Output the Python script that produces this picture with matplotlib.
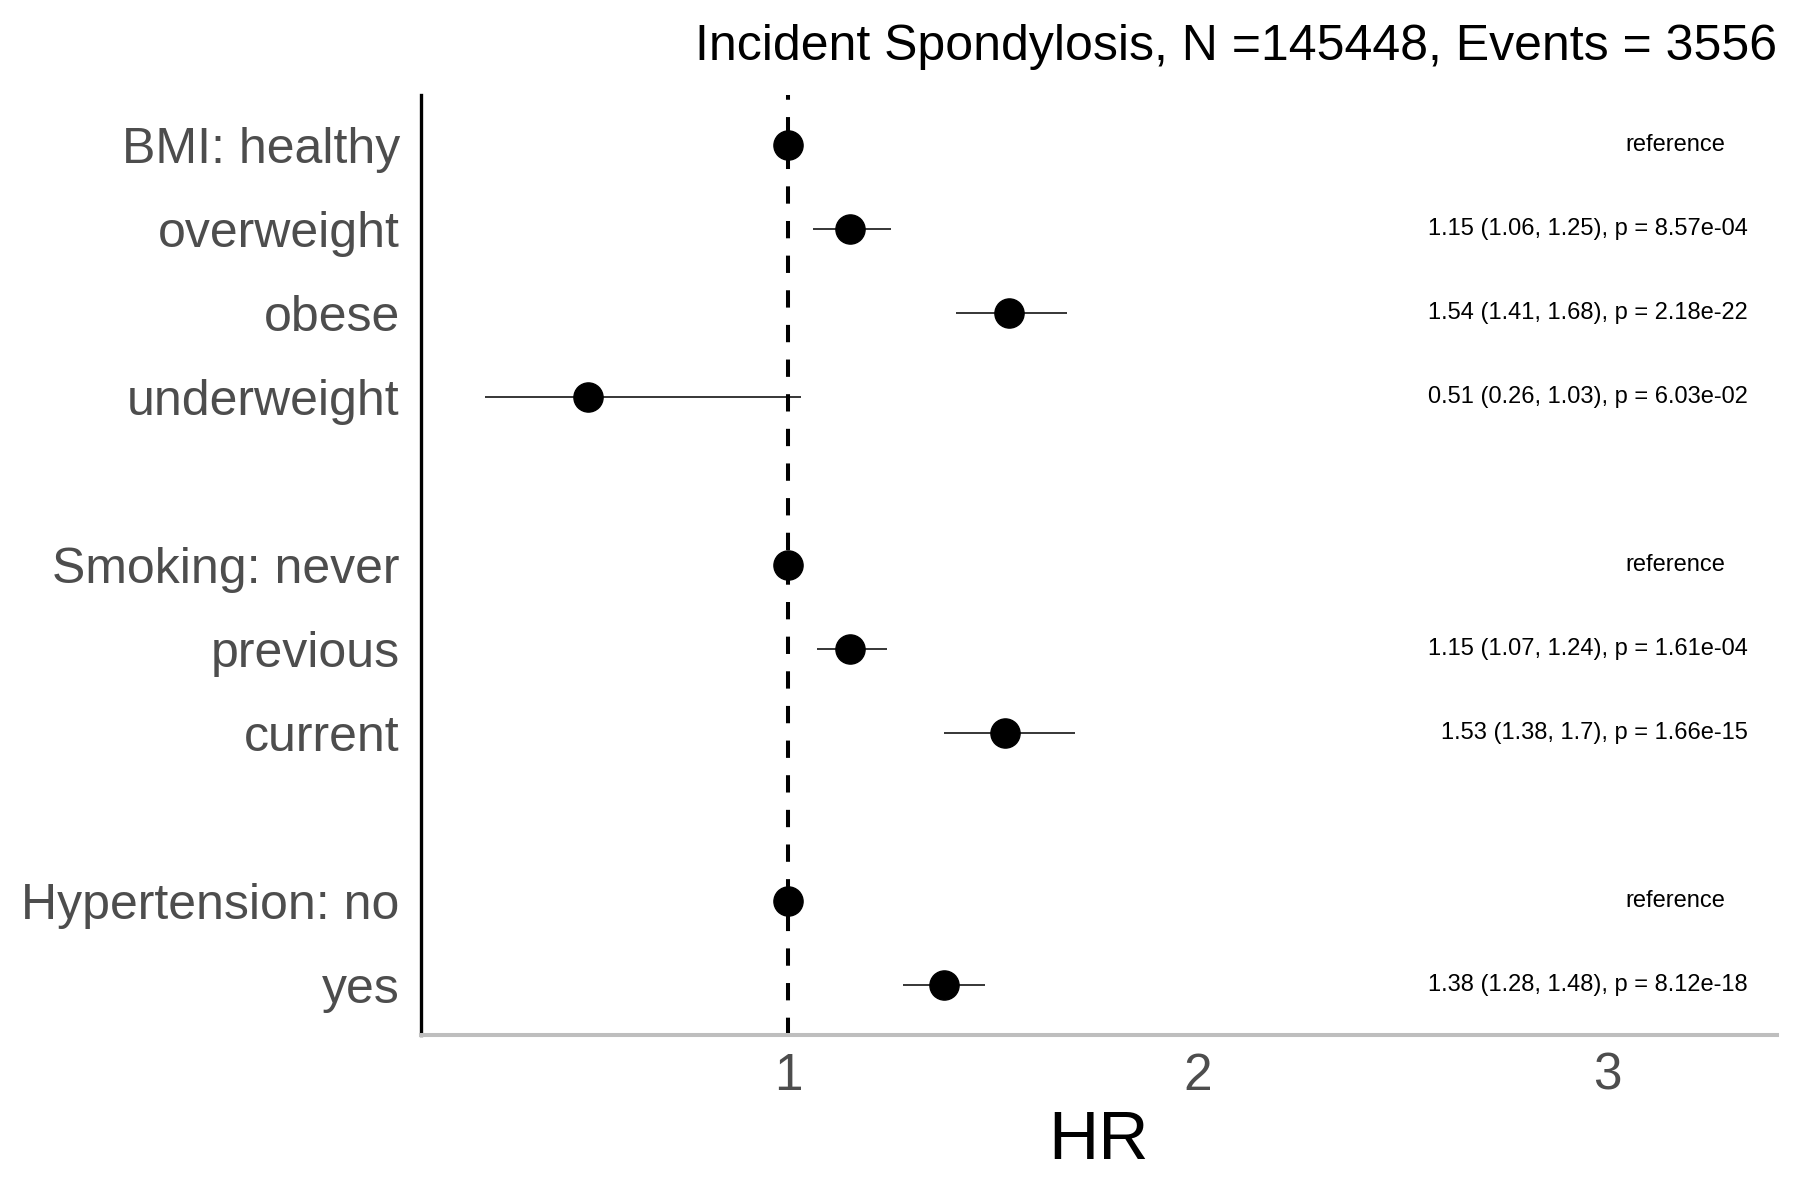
import matplotlib
matplotlib.use("Agg")
import matplotlib.pyplot as plt

plt.rcParams['font.family'] = ['Liberation Sans', 'DejaVu Sans']

# data
outcome = "Incident Spondylosis"
n_total = 145448
n_events = 3556

groups = ["BMI", "Smoking", "Hypertension"]
levels = [["healthy", "overweight", "obese", "underweight"],
          ["never", "previous", "current"],
          ["no", "yes"]]

hr = [1, 1.15, 1.54, 0.51, 1, 1.15, 1.53, 1, 1.38]
ci_lo = [1, 1.06, 1.41, 0.26, 1, 1.07, 1.38, 1, 1.28]
ci_hi = [1, 1.25, 1.68, 1.03, 1, 1.24, 1.70, 1, 1.48]
pvals = [None, 8.57e-04, 2.18e-22, 6.03e-02, None, 1.61e-04, 1.66e-15, None, 8.12e-18]

GREY30 = "#4D4D4D"

# rows from top, one blank row between groups
labels, rows, is_ref = [], [], []
r = 0
for g, lv in zip(groups, levels):
    for i, name in enumerate(lv):
        labels.append(f"{g}: {name}" if i == 0 else name)
        rows.append(r)
        is_ref.append(i == 0)
        r += 1
    r += 1
n_rows = r - 1

fig = plt.figure(figsize=(18, 12), dpi=100)
ax = fig.add_axes([0.2337, 0.1375, 0.9871 - 0.2337, 0.9208 - 0.1375])

ax.axvline(1, color="black", lw=2.9, dashes=(4.3, 4.3), zorder=1)
ax.hlines(rows, ci_lo, ci_hi, color="black", lw=1.1, zorder=2)
ax.plot(hr, rows, "o", color="black", ms=21, zorder=3)

for y, h, lo, hi, p, ref in zip(rows, hr, ci_lo, ci_hi, pvals, is_ref):
    if ref:
        ax.text(3.288, y, "reference", ha="right", va="center", fontsize=17)
    else:
        ax.text(3.343, y, f"{h:g} ({lo:g}, {hi:g}), p = {p:.2e}",
                ha="right", va="center", fontsize=17)

ax.set_xlim(0.102, 3.414)
ax.set_ylim(n_rows - 1 + 0.6, -0.6)
ax.set_xticks([1, 2, 3])
ax.set_xticklabels(["1", "2", "3"])
ax.set_yticks(rows)
ax.set_yticklabels(labels)
ax.tick_params(axis="x", length=0, pad=12, labelsize=37, labelcolor=GREY30)
ax.tick_params(axis="y", length=0, pad=15, labelsize=36, labelcolor=GREY30)

for s in ["top", "right"]:
    ax.spines[s].set_visible(False)
ax.spines["left"].set_color("black")
ax.spines["left"].set_linewidth(2.4)
ax.spines["bottom"].set_color("#BEBEBE")
ax.spines["bottom"].set_linewidth(2.9)

ax.set_xlabel("HR", fontsize=50, labelpad=6)
ax.set_title(f"{outcome}, N ={n_total}, Events = {n_events}",
             loc="right", fontsize=36, pad=25)

fig.savefig("out.png", dpi=100, facecolor="white")
